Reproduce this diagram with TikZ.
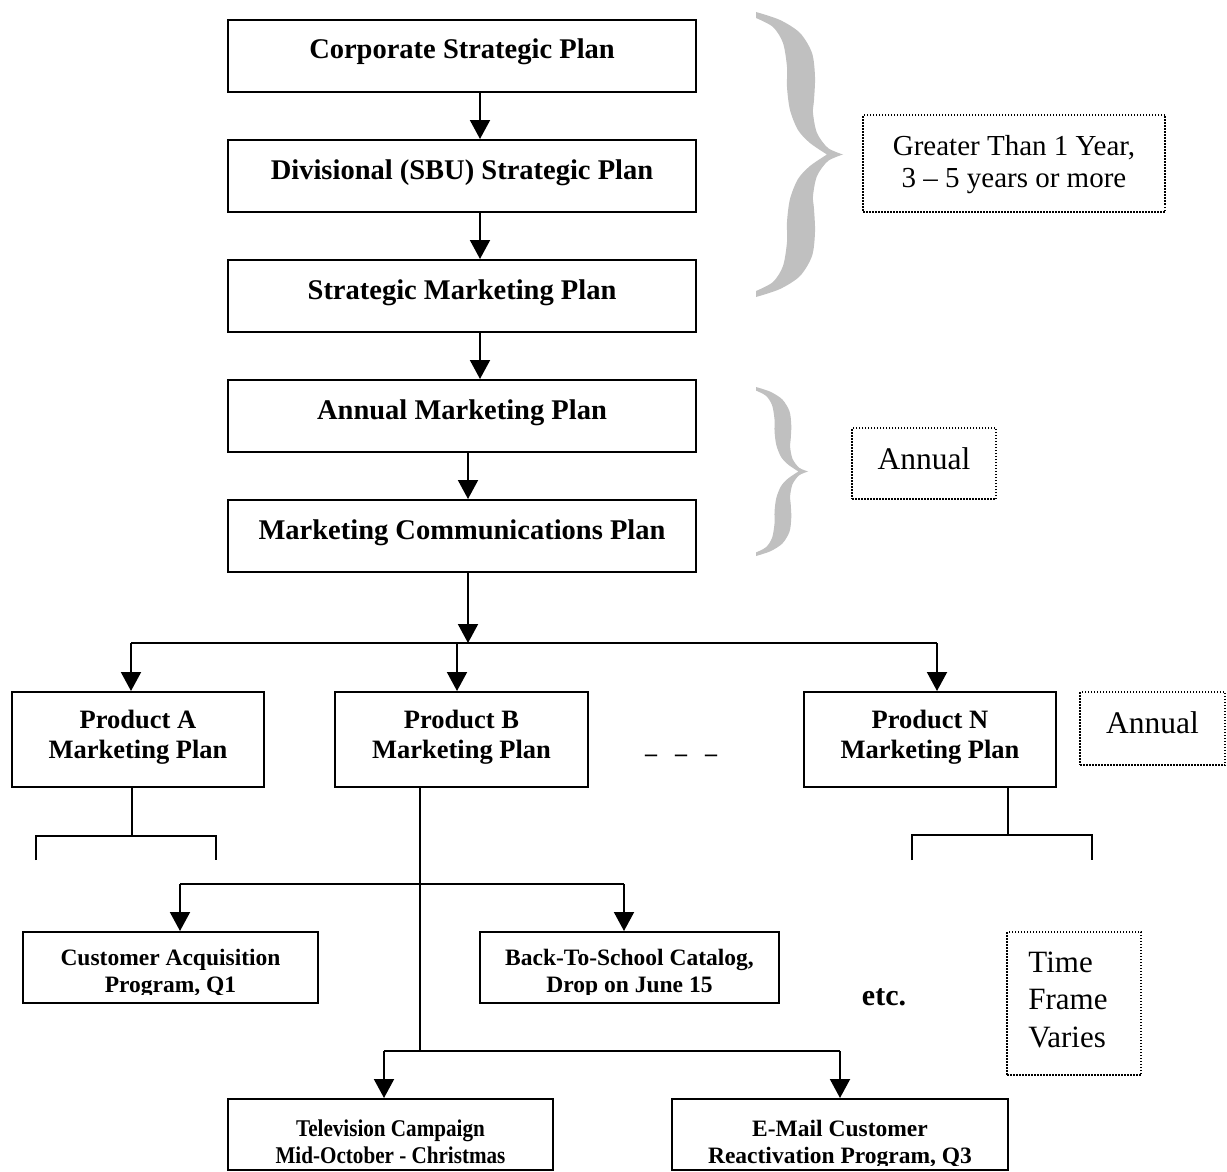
\documentclass[tikz,border=0pt]{standalone}
\usepackage{fontspec}
\setmainfont{Liberation Serif}
\newfontfamily\condfont[FakeStretch=0.88]{Liberation Serif}
\usetikzlibrary{arrows.meta}
\definecolor{bracegray}{RGB}{192,192,192}
\newcommand{\mylines}[2][c]{\begin{tabular}[t]{@{}#1@{}}#2\end{tabular}}
\begin{document}
\begin{tikzpicture}[x=1pt,y=-1pt,
  ln/.style={line width=2pt},
  arr/.style={line width=2pt,-{Triangle[length=19pt,width=20pt]}},
  planbox/.style={draw,line width=2pt,inner sep=0pt,minimum width=468pt,minimum height=72pt,
     font=\bfseries\fontsize{28.5}{33}\selectfont,text height=14pt,text depth=8pt},
  prodbox/.style={draw,line width=2pt,inner sep=0pt,minimum width=252pt,minimum height=95pt,
     font=\bfseries\fontsize{26.5}{30}\selectfont,text height=10pt,text depth=33pt},
  progbox/.style={draw,line width=2pt,inner sep=0pt,minimum height=71pt,
     font=\bfseries\fontsize{23.5}{27}\selectfont,text height=10pt,text depth=15pt},
  notebox/.style={draw,line width=1.5pt,dash pattern=on 1.5pt off 1.5pt,inner sep=0pt},
  gbrace/.pic={
    \fill[bracegray]
      plot[smooth] coordinates {(0,0) (24,8) (44,21) (56,41) (59,65) (58,88) (57,101) (61,121) (72,136) (87,142.5)}
      -- plot[smooth] coordinates {(87,142.5) (72,149) (61,164) (57,184) (58,197) (59,220) (56,244) (44,264) (24,277) (0,285)}
      -- plot[smooth] coordinates {(0,279) (17,270) (27,254) (31,230) (31,210) (34,187) (42,167) (54,154) (71,142.5)}
      -- plot[smooth] coordinates {(71,142.5) (54,131) (42,118) (34,98) (31,75) (31,55) (27,31) (17,15) (0,6)}
      -- cycle;
  }]
\fill[white] (0,0) rectangle (1227,1172);
\useasboundingbox (0,0) rectangle (1227,1172);

% braces
\pic[shift={(756,12)}] {gbrace};
\pic[shift={(756,387)},xscale=0.598,yscale=0.593] {gbrace};

% main chain
\node[planbox] (c1) at (462,56) {Corporate Strategic Plan};
\node[planbox] (c2) at (462,176) {Divisional (SBU) Strategic Plan};
\node[planbox] (c3) at (462,296) {Strategic Marketing Plan};
\node[planbox] (c4) at (462,416) {Annual Marketing Plan};
\node[planbox] (c5) at (462,536) {Marketing Communications Plan};

\draw[arr] ([xshift=18pt]c1.south) -- ([xshift=18pt]c2.north);
\draw[arr] ([xshift=18pt]c2.south) -- ([xshift=18pt]c3.north);
\draw[arr] ([xshift=18pt]c3.south) -- ([xshift=18pt]c4.north);
\draw[arr] ([xshift=6pt]c4.south) -- ([xshift=6pt]c5.north);

% notes
\node[notebox,minimum width=302pt,minimum height=97pt,
  font=\fontsize{29}{32}\selectfont,text height=10pt,text depth=27pt] (gr) at (1014,163.5)
  {\mylines{Greater Than 1 Year,\\3 -- 5 years or more}};
\node[notebox,minimum width=144pt,minimum height=71pt,
  font=\fontsize{31.5}{36}\selectfont,text height=20pt,text depth=9pt] (an1) at (924,463.5) {Annual};
\node[notebox,minimum width=145pt,minimum height=73pt,
  font=\fontsize{31.5}{36}\selectfont,text height=20pt,text depth=11pt] (an2) at (1152.5,728.5) {Annual};
\node[notebox,minimum width=134pt,minimum height=143pt,
  font=\fontsize{31}{37.5}\selectfont,text height=10pt,text depth=73pt] (tf) at (1074,1003.5)
  {\begin{tabular}[t]{@{}l@{\hspace{12pt}}}Time\\Frame\\Varies\end{tabular}};

% bus
\coordinate (j) at (468,643);
\coordinate (busA) at (131,643);
\coordinate (busB) at (457,643);
\coordinate (busN) at (937,643);
\draw[arr] ([xshift=6pt]c5.south) -- (j);
\draw[ln] (busA) -- (busN);

% product plans
\node[prodbox] (pa) at (138,739.5) {\mylines{Product A\\Marketing Plan}};
\node[prodbox,minimum width=253pt] (pb) at (461.5,739.5) {\mylines{Product B\\Marketing Plan}};
\node[prodbox] (pn) at (930,739.5) {\mylines{Product N\\Marketing Plan}};
\draw[arr] (busA) -- (busA |- pa.north);
\draw[arr] (busB) -- (busB |- pb.north);
\draw[arr] (busN) -- (busN |- pn.north);

\node[font=\bfseries\fontsize{24}{28}\selectfont,anchor=base,inner sep=0pt] (dots) at (681,761) {--\hspace{18pt}--\hspace{18pt}--};

% product A stub
\coordinate (pa1) at (132,836);
\coordinate (paL) at (36,860);
\coordinate (paR) at (216,860);
\draw[ln] (pa.south -| pa1) -- (pa1);
\draw[ln] (paL) -- (paL |- pa1) -- (paR |- pa1) -- (paR);

% product N stub
\coordinate (pn1) at (1008,835);
\coordinate (pnL) at (912,860);
\coordinate (pnR) at (1092,860);
\draw[ln] (pn.south -| pn1) -- (pn1);
\draw[ln] (pnL) -- (pnL |- pn1) -- (pnR |- pn1) -- (pnR);

% product B programs
\node[progbox,minimum width=295pt] (ca) at (170.5,967.5) {\mylines{Customer Acquisition\\Program, Q1}};
\node[progbox,minimum width=299pt] (bs) at (629.5,967.5) {\mylines{Back-To-School Catalog,\\Drop on June 15}};
\node[progbox,minimum width=325pt,font=\condfont\bfseries\fontsize{24}{27}\selectfont,text height=12pt,text depth=9pt] (tv) at (390.5,1134.5) {\mylines{Television Campaign\\Mid-October - Christmas}};
\node[progbox,minimum width=336pt,text height=12pt,text depth=9pt] (em) at (840,1134.5) {\mylines{E-Mail Customer\\Reactivation Program, Q3}};

% text frames cut the lowest descenders
\fill[white] ([xshift=3pt,yshift=2.5pt]ca.south west) rectangle ([xshift=-3pt,yshift=9pt]ca.south east);
\fill[white] ([xshift=3pt,yshift=2.5pt]bs.south west) rectangle ([xshift=-3pt,yshift=9pt]bs.south east);
\fill[white] ([xshift=3pt,yshift=2.5pt]tv.south west) rectangle ([xshift=-3pt,yshift=5pt]tv.south east);
\fill[white] ([xshift=3pt,yshift=2.5pt]em.south west) rectangle ([xshift=-3pt,yshift=5pt]em.south east);

\coordinate (pbj) at (420,1051);
\coordinate (k1L) at (180,884);
\coordinate (k1R) at (624,884);
\coordinate (k2L) at (384,1051);
\coordinate (k2R) at (840,1051);
\draw[ln] (pb.south -| pbj) -- (pbj);
\draw[ln] (k1L) -- (k1R);
\draw[arr] (k1L) -- (k1L |- ca.north);
\draw[arr] (k1R) -- (k1R |- bs.north);
\draw[ln] (k2L) -- (k2R);
\draw[arr] (k2L) -- (k2L |- tv.north);
\draw[arr] (k2R) -- (k2R |- em.north);

\node[font=\bfseries\fontsize{30}{36}\selectfont,anchor=base,inner sep=0pt] (etc) at (884,1005) {etc.};
\end{tikzpicture}
\end{document}
